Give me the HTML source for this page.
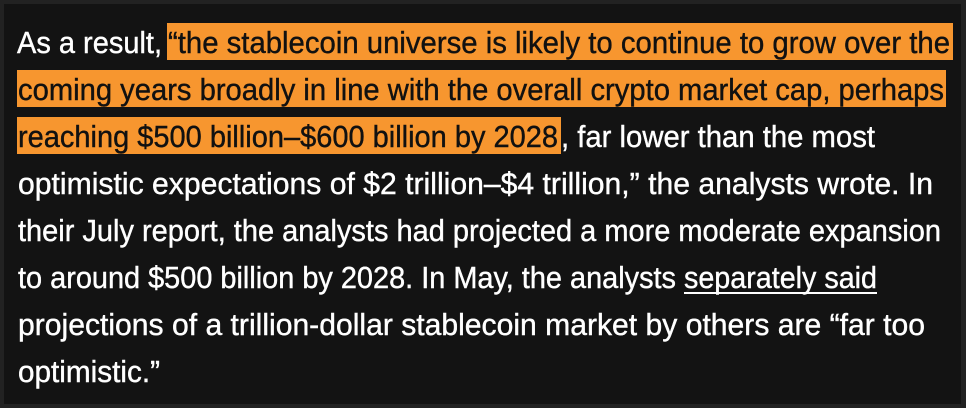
<!DOCTYPE html>
<html><head><meta charset="utf-8"><style>
html,body{margin:0;padding:0;background:#222;}
svg{display:block}
text{font-family:"Liberation Sans",sans-serif;font-size:31px;}
</style></head><body>
<svg width="966" height="408" viewBox="0 0 966 408">
<rect x="0" y="0" width="966" height="408" fill="#222"/>
<rect x="4" y="4" width="957" height="400" fill="#131313"/>
<g>
<rect x="167" y="23" width="786" height="37" fill="#f7962f"/>
<rect x="17" y="70" width="929" height="37" fill="#f7962f"/>
<rect x="17" y="117" width="544" height="37" fill="#f7962f"/>
</g>
<g fill="#fff" stroke="#fff" stroke-width="0.4">
<text x="17" y="53" textLength="145" lengthAdjust="spacingAndGlyphs">As a result,</text>
<text x="168" y="53" fill="#111" stroke="#111" textLength="782" lengthAdjust="spacingAndGlyphs">“the stablecoin universe is likely to continue to grow over the</text>
<text x="18" y="100" fill="#111" stroke="#111" textLength="926" lengthAdjust="spacingAndGlyphs">coming years broadly in line with the overall crypto market cap, perhaps</text>
<text x="18" y="147" fill="#111" stroke="#111" textLength="540" lengthAdjust="spacingAndGlyphs">reaching $500 billion–$600 billion by 2028</text>
<text x="561" y="147" textLength="314" lengthAdjust="spacingAndGlyphs">, far lower than the most</text>
<text x="18" y="194" textLength="915" lengthAdjust="spacingAndGlyphs">optimistic expectations of $2 trillion–$4 trillion,” the analysts wrote. In</text>
<text x="18" y="241" textLength="923" lengthAdjust="spacingAndGlyphs">their July report, the analysts had projected a more moderate expansion</text>
<text x="18" y="288" textLength="658" lengthAdjust="spacingAndGlyphs">to around $500 billion by 2028. In May, the analysts</text>
<text x="684" y="288" textLength="193" lengthAdjust="spacingAndGlyphs">separately said</text>
<rect x="684" y="292" width="193" height="2" fill="#fff" stroke="none"/>
<text x="18" y="335" textLength="907" lengthAdjust="spacingAndGlyphs">projections of a trillion-dollar stablecoin market by others are “far too</text>
<text x="18" y="382" textLength="142" lengthAdjust="spacingAndGlyphs">optimistic.”</text>
</g>
</svg>
</body></html>
